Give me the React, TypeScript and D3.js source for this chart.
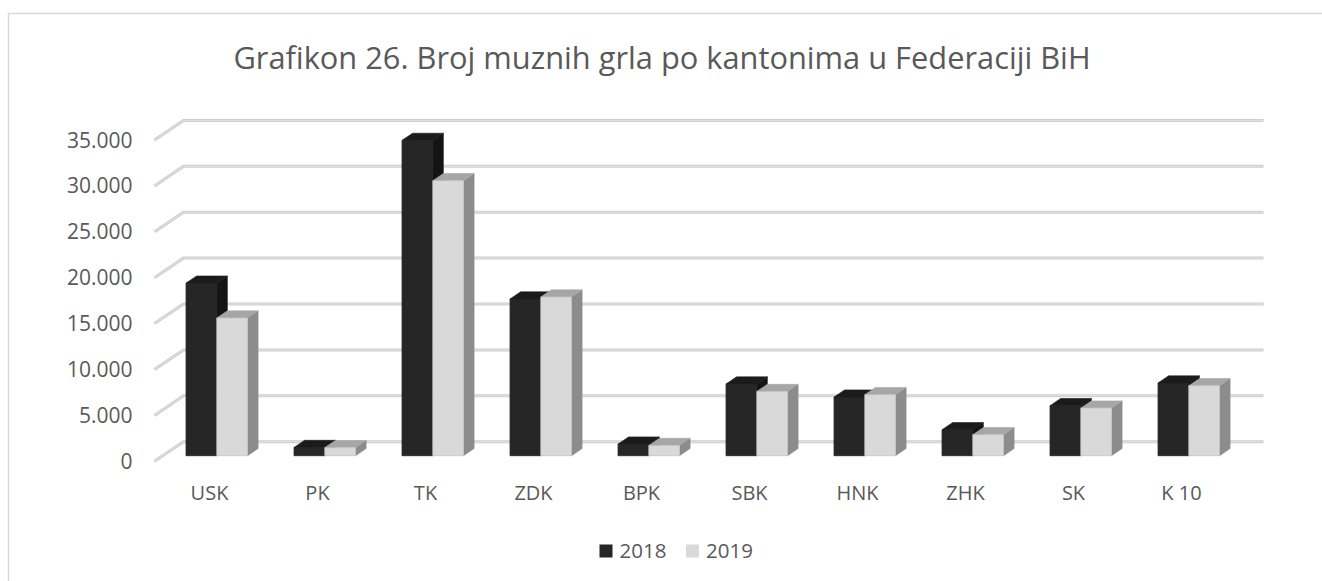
import * as d3 from 'd3'

// Broj muznih grla po kantonima
const CATEGORIES = ['USK', 'PK', 'TK', 'ZDK', 'BPK', 'SBK', 'HNK', 'ZHK', 'SK', 'K 10']
const VALUES_2018 = [18800, 900, 34350, 17070, 1270, 7810, 6390, 2830, 5450, 7920]
const VALUES_2019 = [15000, 880, 29960, 17290, 1120, 7000, 6650, 2290, 5190, 7630]
const SERIES = ['2018', '2019']
const Y_TICKS = [0, 5000, 10000, 15000, 20000, 25000, 30000, 35000]

const TITLE = 'Grafikon 26. Broj muznih grla po kantonima u Federaciji BiH'

const W = 1322
const H = 581
const FONT = '"Open Sans", "Noto Sans", sans-serif'
const TEXT = '#595959'

// 3D box: front plane, depth offset to the back wall
const FRONT_LEFT = 154.5
const FRONT_RIGHT = 1234.5
const FRONT_BASE = 461.3
const DEPTH = { dx: 29, dy: -19.6 }
const BAR_T0 = 0.286 // bar front face position in the depth
const BAR_T1 = 0.65 // bar back face position

const colors = {
  '2018': { front: '#262626', top: '#1b1b1b', side: '#141414' },
  '2019': { front: '#d9d9d9', top: '#a6a6a6', side: '#8c8c8c' },
}

const fmt = d3.formatLocale({ decimal: ',', thousands: '.', grouping: [3], currency: ['', ''] }).format(',')

export default function App() {
  const y = d3.scaleLinear().domain([0, 35000]).range([0, 321.3])
  const x = d3.scaleBand<string>()
    .domain(CATEGORIES)
    .range([FRONT_LEFT, FRONT_RIGHT])
    .paddingInner(0.4306)
    .paddingOuter(0.2153)
  const barW = x.bandwidth() / 2

  const bx0 = DEPTH.dx * BAR_T0
  const by0 = DEPTH.dy * BAR_T0
  const ddx = DEPTH.dx * (BAR_T1 - BAR_T0)
  const ddy = DEPTH.dy * (BAR_T1 - BAR_T0)

  const box = (left: number, v: number, c: { front: string; top: string; side: string }, key: string) => {
    const l = left + bx0
    const r = l + barW
    const b = FRONT_BASE + by0
    const t = b - y(v)
    const front = `M${l},${b}L${l},${t}L${r},${t}L${r},${b}Z`
    const top = `M${l},${t}L${l + ddx},${t + ddy}L${r + ddx},${t + ddy}L${r},${t}Z`
    const side = `M${r},${t}L${r + ddx},${t + ddy}L${r + ddx},${b + ddy}L${r},${b}Z`
    return (
      <g key={key}>
        <path d={side} fill={c.side} stroke={c.side} strokeWidth={0.6} strokeLinejoin="round" />
        <path d={top} fill={c.top} stroke={c.top} strokeWidth={0.6} strokeLinejoin="round" />
        <path d={front} fill={c.front} stroke={key.endsWith('1') ? '#c4c4c4' : '#202020'} strokeWidth={0.8} />
      </g>
    )
  }

  return (
    <svg width={W} height={H} style={{ position: 'absolute', left: 0, top: 0, background: '#fff' }}>
      {/* chart area border (only top and left fall inside the picture) */}
      <path d={`M8.5,${H}L8.5,13.5L${W},13.5`} fill="none" stroke="#d9d9d9" strokeWidth={1.5} />

      <text x={W / 2 + 1} y={69} textAnchor="middle" fontFamily={FONT} fontSize={30.8} fill={TEXT}>
        {TITLE}
      </text>

      {/* gridlines: slanted side wall segment + back wall */}
      {Y_TICKS.map(t => {
        const fy = FRONT_BASE - y(t)
        const d = `M${FRONT_LEFT},${fy}L${FRONT_LEFT + DEPTH.dx},${fy + DEPTH.dy}L${FRONT_RIGHT + DEPTH.dx},${fy + DEPTH.dy}`
        return (
          <g key={t}>
            <path d={d} fill="none" stroke="#cdcdcd" strokeWidth={3} strokeLinejoin="round" />
            <path d={d} fill="none" stroke="#e4e4e4" strokeWidth={1} strokeLinejoin="round" />
          </g>
        )
      })}

      {Y_TICKS.map(t => (
        <text key={t} x={132.5} y={FRONT_BASE - y(t)} dy="0.36em" textAnchor="end"
          fontFamily={FONT} fontSize={21} fill={TEXT}>
          {fmt(t)}
        </text>
      ))}

      {CATEGORIES.map((c, i) => {
        const left = x(c) as number
        return (
          <g key={c}>
            {box(left, VALUES_2018[i], colors['2018'], c + '0')}
            {box(left + barW, VALUES_2019[i], colors['2019'], c + '1')}
            <text x={left + x.bandwidth() / 2 + 1} y={499.5} textAnchor="middle"
              fontFamily={FONT} fontSize={20} fill={TEXT}>
              {c}
            </text>
          </g>
        )
      })}

      {/* legend */}
      {SERIES.map((s, i) => {
        const lx = 599.5 + i * 86.5
        return (
          <g key={s}>
            <rect x={lx} y={544.5} width={13} height={13} fill={colors[s as '2018' | '2019'].front} />
            <text x={lx + 20} y={557.5} fontFamily={FONT} fontSize={20.5} fill={TEXT}>{s}</text>
          </g>
        )
      })}
    </svg>
  )
}
